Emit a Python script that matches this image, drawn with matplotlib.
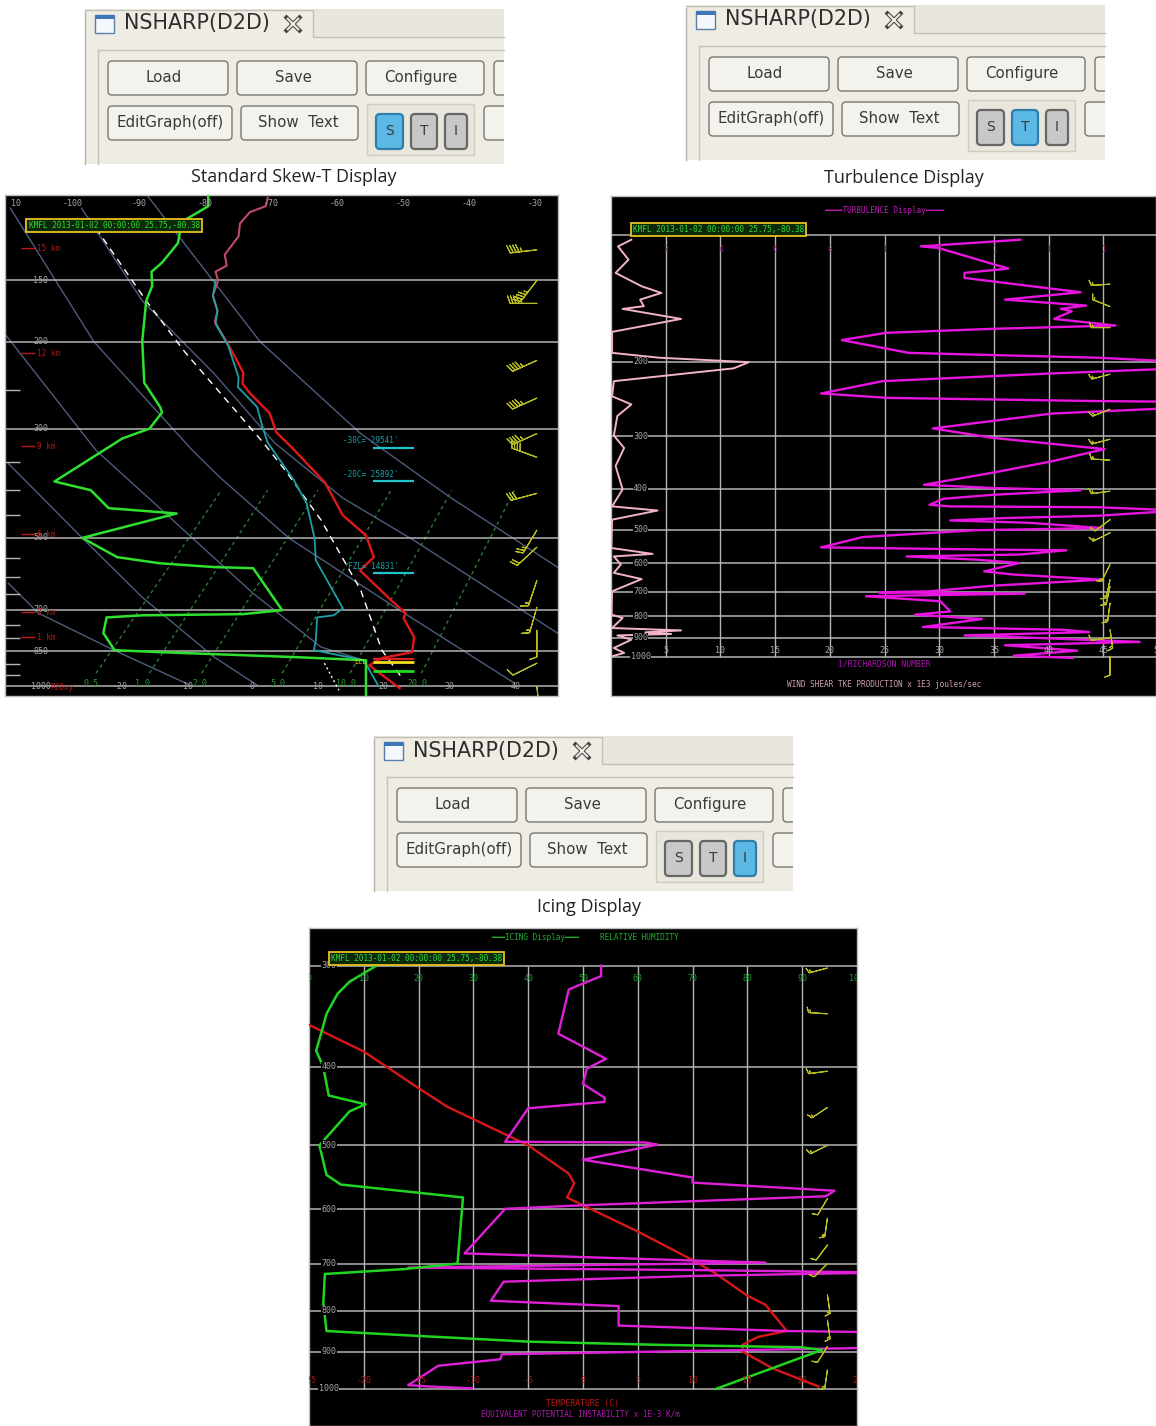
import matplotlib
matplotlib.use("Agg")
import matplotlib.pyplot as plt
from matplotlib.patches import FancyBboxPatch, Rectangle

W, H = 1156, 1426
MONO = "DejaVu Sans Mono"

# ---------- Skew-T panel: x = skewed temperature (deg C at 1000 mb), y = pressure (mb)
sk_temp_x = [2.4,2.1,-.3,-1.8,-2.0,-4.1,-3.8,-5.5,-5.1,-5.9,-5.2,-5.6,-4.1,-2.5,-1.3,-1.4,-.3,2.7,3.7,6.2,11.1,13.8,17.3,18.5,16.4,21.1,23.3,23,24.6,24.3,19.7,17.8,19.2,22.4]
sk_temp_p = [102,106,109,115,122,133,140,144,150,161,173,182,197,215,231,243,254,279,305,329,386,450,494,547,582,669,711,728,795,853,877,907,937,1009]
sk_wb_x = [-5.5,-5.9,-5.2,-5.5,-3.6,-2.0,-2.1,.8,1.7,2.4,6.4,8.3,9.5,9.7,13.8,12.4,9.9,9.7,9.4,17,19.2]
sk_wb_p = [150,161,173,184,203,236,247,271,300,320,382,425,500,555,695,718,725,807,845,886,1000]
sk_dew_x = [-6.6,-6.6,-10.1,-10.9,-11.2,-13.6,-15.2,-15.1,-16,-16.6,-16.3,-13.9,-13.6,-15.5,-19.6,-29.9,-24.4,-21.7,-11.4,-25.7,-20.4,-13.9,-5.7,.2,4.6,-1.4,-16.6,-22,-22.5,-20.8,-13.9,6.7,17.3,17.3]
sk_dew_p = [101,106,113,120,126,138,144,154,165,199,242,271,278,300,314,384,400,435,446,500,547,563,573,576,701,714,718,725,780,845,853,873,886,1052]
sk_parcel_x = [-24.7,-16,-10.1,1.8,5.1,10.5,16.5,19.7,23]
sk_parcel_p = [112,165,210,321,365,460,638,845,972]
sk_parcel2_x = [11,13.2]
sk_parcel2_p = [898,1019]
adiabat_x = [[-15.8,1.3,16.5,30,46.3],[-36.6,-23.9,-9,-4.7,5.6,22.4,39.8],[-37.5,-23.6,-15.8,.2,10.5,17],
             [-25.8,-16.6,-5.7,3.5,13.8,24.6,46.3],[-36.9,-25.7,-16.6,-5.7,.8],[-36.9,-32.3,-20.9,-9]]
adiabat_p = [[101,200,307,413,573],[107,200,332,378,500,701,986],[192,332,413,648,833,886],
             [107,165,232,321,415,506,780],[353,500,660,873,995],[618,711,845,1000]]
mix_labels = ["0.5","1.0","2.0","5.0","10.0","20.0"]
mix_label_x = [-24.4,-16.6,-7.9,4,14.3,25.1]
mix_low_x = [-23.6,-15.5,-7.6,4.6,14.9,25.7]
mix_high_x = [-4.6,2.4,10,21.1,30.3,39.8]
mix_low_p, mix_high_p = 941, 400
sk_isobars = [150,200,300,500,700,850,1000]
sk_minor = [250,350,400,450,550,600,650,750,800,900,950]
sk_top_vals = [-100,-90,-80,-70,-60,-50,-40,-30]
sk_top_skew = 72.9
sk_bot_vals = [-20,-10,0,10,20,30,40]
km_labels = ["15 km","12 km","9 km","6 km","3 km","1 km"]
km_p = [129,211,326,491,708,795]
sk_barb_p = [130,150,167,218,260,307,343,406,482,522,610,691,770,898,1000]
sk_barb_u = [43,27,43,40,40,40,38,30,12,15,5,4,0,10,-1]
sk_barb_v = [5,35,0,18,18,18,-14,8,20,14,15,14,10,5,10]
frz_labels = ["-30C= 29541'","-20C= 25892'","FZL= 14831'"]
frz_x = [13.8,13.8,14.6]
frz_text_p = [317,371,571]
frz_line_p = [329,384,590]

# ---------- Turbulence panel
tu_x = [37.4,28.3,29.9,36.3,32.3,32.3,42.9,36,43.4,41.1,42.1,40.5,46.1,34.9,25.1,21.1,27.2,34.9,44.5,52,52,40.3,24.8,19.2,25.3,34.9,44.5,52,52,40.3,29.4,34.9,45.1,40.3,34.9,28.6,34.9,42.9,34.9,30.4,29.1,31,44.5,52,44.5,35.8,31,38.1,44.8,33.3,23,19.2,34.9,41.6,37.4,27,33.3,37.3,34.1,36.8,44.8,34.9,29.1,24.5,37.8,23.3,30.1,31,27.8,33.9,28.5,41.3,43.7,32.3,36.8,48.3,36,42.6,36.8,42.2]
tu_p = [102.8,106.6,107.5,120.3,123.2,126.6,136.9,142.5,147.2,149.9,151.8,158.3,164.1,167.1,170.8,177.7,190.5,192.8,195.6,200,207.3,213.1,222.3,237.7,243.5,245.6,247.8,248.7,257,265.2,287.6,302.8,322,344,366,391,398,403,413,422,436,440,442,450,463,469,475,481,495,501,520,550,557,559,572,578,588,599,627,638,656,678,699,703,708,718,738,780,794,813,849,862,873,889,897,921,938,966,993,1005]
ri_x = [1.86,.64,1.6,.42,2.8,4.6,2.66,3,1.06,6.4,.1,.1,4.4,12.6,11.2,.26,.1,1.86,.58,.26,1.2,.42,1.06,.1,4.26,.1,.03,3.8,.26,.9,.26,2.8,.1,.05,1.06,.1,6.4,3.14,5.5,.58,1.86,.26,1.2,.1]
ri_p = [102.8,106.6,114.6,123.2,132.5,137.4,142.5,147.7,149.9,158.3,169.9,190.5,195.6,200.4,207.3,222.3,241.4,252.3,268.8,299,319.9,353,401,440,450,473,552,570,578,604,632,654,699,794,808,854,865,874,882,889,910,952,978,996]
tu_isobars = [100,200,300,400,500,600,700,800,900,1000]
tu_grid_x = [5,10,15,20,25,30,35,40,45]
tu_top_labels = ["2","4","6","8","1","1","1","1","1"]
tu_bot_labels = ["5","10","15","20","25","30","35","40","45","50"]
tu_barb_p = [131,148,166,214,259,305,342,405,473,508,604,656,680,745,861,901,997]
tu_barb_u = [15,15,15,15,15,15,15,15,8,12,6,3,3,2,-2,8,0]
tu_barb_v = [1,-6,0,4,6,4,-1,2,6,6,12,14,14,15,14,1,10]

# ---------- Icing panel
ic_rh_x = [12.3,7.4,5.2,3.2,2.3,1.3,2.6,3.6,10.3,7.4,1.9,3.2,5.8,28.1,27.1,17.4,2.9,2.6,3.2,18.7,40,63.9,89.7,93.6,74.2]
ic_rh_p = [300,314,325,344,362,382,400,434,445,454,500,544,559,580,700,711,721,784,848,859,874,882,888,895,1000]
ic_t_x = [0,10,20,25.2,40,47.4,48.4,47.1,50,60,70,74.2,80,83.3,87.2,82,79.1,79.1,84.6,93]
ic_t_p = [355,383,425,448,500,542,557,580,593,639,693,720,767,787,848,862,882,899,943,993]
ic_ep_x = [53.3,53.3,47.4,45.5,54.2,50.7,50,54,53.9,40,35.8,61.3,63.6,50,70,70,95.9,94.3,50,35.8,28.4,70.4,83.3,18.1,70.4,105,70.4,35.5,33.2,56.5,56.5,87.2,105,105,63.9,35.2,34.9,23.6,18.1,22,29.7]
ic_ep_p = [300,309,321,364,391,402,420,437,442,450,495,496,499,521,548,556,569,578,593,599,680,694,698,708,713,718,725,737,778,790,835,848,851,889,899,906,919,936,989,993,998]
ic_isobars = [300,400,500,600,700,800,900,1000]
ic_grid_x = [10,20,30,40,50,60,70,80,90]
ic_top_vals = [0,10,20,30,40,50,60,70,80,90,100]
ic_temp_labels = [-25,-20,-15,-10,-5,0,5,10,15,20,25]
ic_barb_p = [302,344,405,449,500,582,615,664,700,765,822,886,947]
ic_barb_u = [15,15,15,12,12,6,2,6,8,-2,-2,5,2]
ic_barb_v = [4,-1,2,8,6,10,14,8,8,14,14,8,14]

station = "KMFL 2013-01-02 00:00:00 25.75,-80.38"
captions = ["Standard Skew-T Display","Turbulence Display","Icing Display"]
active_btn = ["S","T","I"]

fig = plt.figure(figsize=(W/100, H/100), dpi=100, facecolor="white")

# ---------- UI layer, in page pixels
ui = fig.add_axes([0,0,1,1], zorder=0)
ui.set_xlim(0,W); ui.set_ylim(H,0); ui.axis("off")

def button(x0,y0,x1,y1,label,fc="#f4f2ec",ec="#777772",tc="#3a3a3a",fs=10.8,lw=1.0,clip_x=None,shift=-4):
    p = FancyBboxPatch((x0+3,y0+3),x1-x0-6,y1-y0-6,boxstyle="round,pad=3,rounding_size=4",fc=fc,ec=ec,lw=lw,zorder=3)
    ui.add_patch(p)
    if clip_x is not None:
        p.set_clip_path(Rectangle((0,0),clip_x,H,transform=ui.transData))
    if label:
        ui.text((x0+x1)/2+shift,(y0+y1)/2-0.5,label,ha="center",va="center",fontsize=fs,color=tc,family="DejaVu Sans",zorder=4)

def toolbar(dx,dy,active,caption,cap_x,cap_y):
    R = 504+dx
    ui.add_patch(Rectangle((85+dx,9+dy),419,155,fc="#efece3",ec="none",zorder=1))
    ui.add_patch(Rectangle((313+dx,9+dy),191,28,fc="#e9e6dd",ec="none",zorder=1))
    ui.plot([85+dx,85+dx],[12+dy,164+dy],color="#b5b3aa",lw=1,zorder=2)
    ui.plot([85+dx,313+dx,313+dx,R],[10+dy,10+dy,37+dy,37+dy],color="#c2c0b6",lw=1,zorder=2)
    ui.plot([98+dx,98+dx],[164+dy,50+dy],color="#c6c4ba",lw=1,zorder=2)
    ui.plot([98+dx,R],[50+dy,50+dy],color="#c6c4ba",lw=1,zorder=2)
    ui.add_patch(Rectangle((95+dx,15+dy),19,18,fc="#f4f8fc",ec="#5a7fa8",lw=1,zorder=3))
    ui.add_patch(Rectangle((95+dx,15+dy),19,4,fc="#3f78b8",ec="none",zorder=4))
    ui.text(124+dx,23.5+dy,"NSHARP(D2D)",fontsize=14.9,color="#2e2e2e",va="center",ha="left",family="DejaVu Sans",zorder=4)
    ui.plot([293+dx],[24+dy],marker="x",ms=11,mew=3,color="#444444",zorder=4)
    ui.plot([293+dx],[24+dy],marker="x",ms=9,mew=1.5,color="#efece3",zorder=5)
    button(108+dx,61+dy,228+dx,95+dy,"Load")
    button(237+dx,61+dy,357+dx,95+dy,"Save")
    button(366+dx,61+dy,484+dx,95+dy,"Configure")
    button(494+dx,61+dy,530+dx,95+dy,"",clip_x=R)
    button(108+dx,106+dy,232+dx,140+dy,"EditGraph(off)",shift=0)
    button(241+dx,106+dy,358+dx,140+dy,"Show  Text",shift=-1)
    ui.add_patch(Rectangle((367+dx,104+dy),107,51,fc="#e9e6dd",ec="#cfccc2",lw=1,zorder=2))
    button(484+dx,106+dy,530+dx,140+dy,"",clip_x=R)
    for name,x0,x1 in (("S",376,403),("T",411,437),("I",445,467)):
        on = name == active
        button(x0+dx,114+dy,x1+dx,149+dy,name,fc="#5cb9e6" if on else "#c9c8c8",
               ec="#2f7ea8" if on else "#666666",lw=1.6,fs=10,shift=0)
    ui.text(cap_x,cap_y,caption,ha="center",va="center",fontsize=13,color="#222222",family="Open Sans",zorder=4)

toolbar(0,0,active_btn[0],captions[0],294,177)
toolbar(601,-4,active_btn[1],captions[1],904,178)
toolbar(289,727,active_btn[2],captions[2],589,907)

# ---------- chart panels
def panel(l,t,r,b,xlim,ylim):
    ax = fig.add_axes([l/W,1-b/H,(r-l)/W,(b-t)/H],zorder=2,facecolor="black")
    ax.set_yscale("log")
    ax.set_xlim(*xlim); ax.set_ylim(*ylim)
    ax.tick_params(which="both",length=0,labelleft=False,labelbottom=False)
    ax.set_xticks([]); ax.set_yticks([]); ax.minorticks_off()
    for s in ax.spines.values():
        s.set_color("#bdbdbd"); s.set_linewidth(1)
    return ax

def tag(ax,x,p):
    ax.text(x,p,station,fontsize=5.55,family=MONO,color="#38d838",ha="left",va="center",zorder=8,
            bbox=dict(boxstyle="square,pad=0.3",fc="#0a2a0a",ec="#e8c020",lw=1.3))

def put(ax,x,p,s,color,fs=6,ha="center",z=7,**kw):
    ax.text(x,p,s,fontsize=fs,family=MONO,color=color,ha=ha,va="center",zorder=z,clip_on=True,**kw)

GREY = "#b4b4b4"
LAB = "#a8a8a8"
BARB = "#b8bc22"
SIZES = dict(height=0.28,spacing=0.11,width=0.2)

# Skew-T
a = panel(5,195,558,696,(-37.4,46.4),(1047,100.6))
for xs,ps in zip(adiabat_x,adiabat_p):
    a.plot(xs,ps,color="#4e5c7c",lw=1,zorder=2)
for lo,hi in zip(mix_low_x,mix_high_x):
    a.plot([lo,hi],[mix_low_p,mix_high_p],color="#2c7a32",lw=1,ls=(0,(2.5,2.5)),zorder=2)
a.hlines(sk_isobars,-37.4,46.4,color=GREY,lw=1.1,zorder=3)
a.hlines(sk_minor,-37.4,-35.2,color=GREY,lw=1,zorder=3)
a.plot(sk_parcel_x,sk_parcel_p,color="white",lw=1,ls=(0,(5,4)),zorder=4)
a.plot(sk_parcel2_x,sk_parcel2_p,color="white",lw=1,ls=(0,(1.5,2)),zorder=4)
a.plot(sk_temp_x[:13],sk_temp_p[:13],color="#c04a68",lw=1.5,zorder=5)
a.plot(sk_temp_x[12:],sk_temp_p[12:],color="#e01818",lw=1.7,zorder=5)
a.plot(sk_wb_x,sk_wb_p,color="#1fa0a8",lw=1.3,zorder=5)
a.plot(sk_dew_x,sk_dew_p,color="#2fe02f",lw=1.8,zorder=6)
a.barbs([43.2]*len(sk_barb_p),sk_barb_p,sk_barb_u,sk_barb_v,color=BARB,length=6.2,linewidth=0.8,pivot="tip",sizes=SIZES,zorder=6)
for v in sk_top_vals:
    put(a,v+sk_top_skew,104.7,str(v),LAB)
put(a,-36.5,104.7,"10",LAB,ha="left")
for v in sk_bot_vals:
    put(a,v,1000,str(v),LAB)
for v in sk_isobars:
    put(a,-32,v,str(v),LAB)
for s,x in zip(mix_labels,mix_label_x):
    put(a,x,986,s,"#2c9a32")
for s,p in zip(km_labels,km_p):
    a.hlines(p,-35,-32.8,color="#c01818",lw=1,zorder=7)
    put(a,-32.5,p,s,"#b01818",fs=5.5,ha="left")
put(a,-30.5,1006,"P20xy","#b01818",fs=5.5,ha="left")
for s,x,p in zip(frz_labels,frz_x,frz_text_p):
    put(a,x,p,s,"#1fa0a8",fs=5.5,ha="left")
a.hlines(frz_line_p,18.3,24.6,color="#22c4cc",lw=1.6,zorder=7)
a.hlines(882,18.3,24.6,color="#e02020",lw=1.6,zorder=7)
a.hlines(894,18.3,24.6,color="#f0e020",lw=2,zorder=7)
a.hlines(932,18.3,24.6,color="#20e020",lw=2,zorder=7)
put(a,15.5,894,"LCL","#f0c040",fs=5,ha="left")
tag(a,-33.8,116)

# Turbulence
b = panel(611,196,1156,696,(0,49.8),(1237,81))
b.vlines(tu_grid_x,100,1000,color=GREY,lw=1,zorder=2)
b.hlines(tu_isobars,0,49.8,color=GREY,lw=1.1,zorder=2)
b.plot(ri_x,ri_p,color="#f2b4c4",lw=1.4,zorder=4)
b.plot(tu_x,tu_p,color="#e814e0",lw=1.7,zorder=5)
b.barbs([45.6]*len(tu_barb_p),tu_barb_p,tu_barb_u,tu_barb_v,color=BARB,length=5.2,linewidth=0.8,pivot="tip",sizes=SIZES,zorder=6)
for x,s in zip(tu_grid_x,tu_top_labels):
    put(b,x,108.6,s,"#7a1a6a",fs=5.5)
for x,s in zip(tu_grid_x+[50],tu_bot_labels):
    put(b,x,964,s,LAB)
for v in tu_isobars:
    put(b,2.7,v,str(v),LAB,bbox=dict(fc="black",ec="none",pad=0.3))
put(b,25,87.8,"\u2501\u2501\u2501\u2501TURBULENCE Display\u2501\u2501\u2501\u2501","#c01ab8",fs=5.6,z=3)
put(b,25,1039,"1/RICHARDSON NUMBER","#b010b0",fs=5.8)
put(b,25,1159,"WIND SHEAR TKE PRODUCTION x 1E3 joules/sec","#d0a0b0",fs=5.6)
tag(b,2.0,97.2)

# Icing
c = panel(309,928,857,1426,(0,100),(1111,269.5))
c.vlines(ic_grid_x,300,1000,color=GREY,lw=1,zorder=2)
c.hlines(ic_isobars,0,100,color=GREY,lw=1.1,zorder=2)
c.plot(ic_t_x,ic_t_p,color="#d81818",lw=1.7,zorder=4)
c.plot(ic_ep_x,ic_ep_p,color="#e020d8",lw=1.7,zorder=5)
c.plot(ic_rh_x,ic_rh_p,color="#22d422",lw=1.8,zorder=6)
c.barbs([94.6]*len(ic_barb_p),ic_barb_p,ic_barb_u,ic_barb_v,color=BARB,length=5.2,linewidth=0.8,pivot="tip",sizes=SIZES,zorder=6)
for v in ic_top_vals:
    put(c,v,311,str(v),"#1f9a2f")
for i,v in enumerate(ic_temp_labels):
    put(c,i*10,975,str(v),"#a01818")
for v in ic_isobars:
    put(c,3.6,v,str(v),LAB,bbox=dict(fc="black",ec="none",pad=0.3))
put(c,41.3,277,"\u2501\u2501\u2501ICING Display\u2501\u2501\u2501","#1fae2f",fs=5.6)
put(c,60.2,277,"RELATIVE HUMIDITY","#1fae2f",fs=5.6)
put(c,50,1042,"TEMPERATURE (C)","#c01818",fs=5.8)
put(c,49.6,1074,"EQUIVALENT POTENTIAL INSTABILITY x 1E-3 K/m","#b018b0",fs=5.6)
tag(c,4,294)

fig.savefig("out.png",dpi=100,facecolor="white")
